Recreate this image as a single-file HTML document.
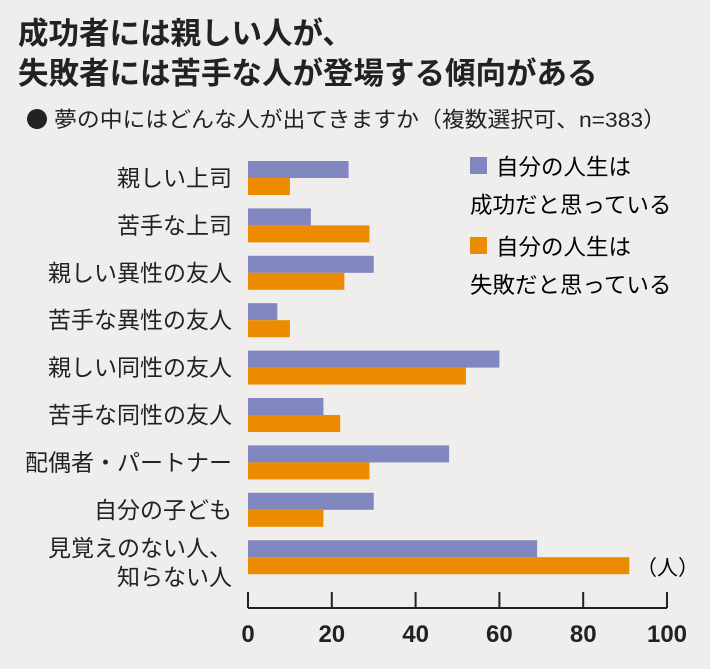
<!DOCTYPE html>
<html><head><meta charset="utf-8"><style>
body{margin:0;width:710px;height:669px;background:#efeeec;overflow:hidden;font-family:"Liberation Sans","Noto Sans CJK JP",sans-serif;color:#222}
svg{position:absolute;left:0;top:0}
</style></head><body>
<svg id="c" width="710" height="669">
<text x="18" y="44" font-size="30.5" font-weight="bold" fill="#222">成功者には親しい人が、</text>
<text x="18" y="84" font-size="30.5" font-weight="bold" fill="#222">失敗者には苦手な人が登場する傾向がある</text>
<circle cx="37" cy="119" r="10" fill="#222"/>
<text x="54" y="127" font-size="21.5" fill="#222" textLength="612" lengthAdjust="spacingAndGlyphs">夢の中にはどんな人が出てきますか（複数選択可、n=383）</text>
<rect x="470" y="157" width="17" height="17" fill="#7f86c0"/>
<text x="496" y="175" font-size="22.5">自分の人生は</text>
<text x="470" y="213" font-size="22.5">成功だと思っている</text>
<rect x="470" y="237" width="17" height="17" fill="#ec8a00"/>
<text x="496" y="255" font-size="22.5">自分の人生は</text>
<text x="470" y="293" font-size="22.5">失敗だと思っている</text>
<text x="636" y="575" font-size="21">（人）</text>
</svg>
<script>
const categories=["親しい上司","苦手な上司","親しい異性の友人","苦手な異性の友人","親しい同性の友人","苦手な同性の友人","配偶者・パートナー","自分の子ども","見覚えのない人、|知らない人"];
const successValues=[24,15,30,7,60,18,48,30,69];
const failureValues=[10,29,23,10,52,22,29,18,91];
const ticks=[0,20,40,60,80,100];
const svg=document.getElementById('c');
const NS='http://www.w3.org/2000/svg';
const x=v=>248+v*4.19;
const yTop=i=>161+i*47.4;
function mk(t,a){const e=document.createElementNS(NS,t);for(const k in a)e.setAttribute(k,a[k]);svg.appendChild(e);return e;}
categories.forEach((c,i)=>{
  const y=yTop(i);
  const b1=mk('rect',{x:248,y:y,width:x(successValues[i])-248,height:17,fill:'#7f86c0'});
  
  
  const b2=mk('rect',{x:248,y:y+17,width:x(failureValues[i])-248,height:17,fill:'#ec8a00'});
  
  
  const parts=c.split('|');
  parts.forEach((p,j)=>{
    const ty=parts.length===1?y+25:y+16+j*29;
    const t=mk('text',{x:232,y:ty,'font-size':23,'text-anchor':'end',fill:'#222'});
    t.textContent=p;
    
    
  });
});
const ax=mk('path',{d:'M248 608H667',stroke:'#222','stroke-width':2,fill:'none'});


ticks.forEach(v=>{
  const tk=mk('path',{d:`M${x(v)} 592V608`,stroke:'#222','stroke-width':2});
  
  
  const t=mk('text',{x:x(v),y:642,'font-size':24,'font-weight':'bold','text-anchor':'middle',fill:'#222'});
  t.textContent=v;
  
  
});
</script>
</body></html>
